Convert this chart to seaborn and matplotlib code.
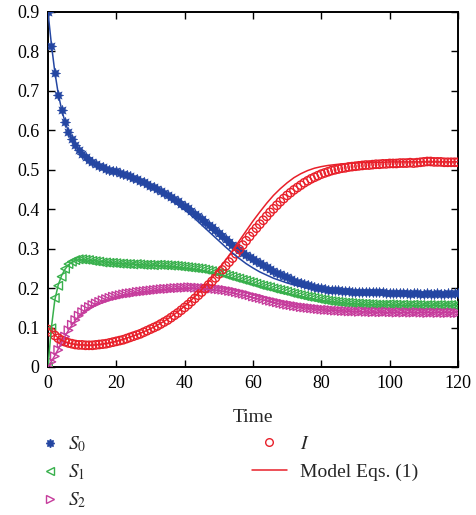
import numpy as np
import pandas as pd
import matplotlib
matplotlib.use("Agg")
import matplotlib.pyplot as plt
import seaborn as sns
from matplotlib.lines import Line2D

# ------------------------------------------------------------
# data
# ------------------------------------------------------------
t_obs = list(range(0, 121))

s0_obs = [
    0.900, 0.815, 0.745, 0.690, 0.652, 0.621, 0.597, 0.578, 0.563, 0.551,
    0.541, 0.533, 0.526, 0.520, 0.514, 0.509, 0.506, 0.503, 0.500, 0.498,
    0.496, 0.493, 0.490, 0.487, 0.483, 0.479, 0.476, 0.472, 0.468, 0.464,
    0.460, 0.456, 0.451, 0.446, 0.441, 0.436, 0.431, 0.426, 0.420, 0.414,
    0.408, 0.402, 0.396, 0.389, 0.382, 0.375, 0.368, 0.361, 0.354, 0.347,
    0.340, 0.333, 0.325, 0.317, 0.310, 0.303, 0.296, 0.290, 0.284, 0.278,
    0.273, 0.268, 0.263, 0.258, 0.253, 0.248, 0.244, 0.239, 0.235, 0.231,
    0.227, 0.223, 0.219, 0.216, 0.213, 0.210, 0.207, 0.205, 0.203, 0.201,
    0.199, 0.198, 0.196, 0.195, 0.194, 0.194, 0.193, 0.192, 0.192, 0.191,
    0.191, 0.190, 0.191, 0.190, 0.189, 0.189, 0.189, 0.190, 0.189, 0.188,
    0.188, 0.188, 0.187, 0.188, 0.187, 0.187, 0.186, 0.187, 0.187, 0.186,
    0.186, 0.187, 0.186, 0.186, 0.187, 0.186, 0.186, 0.187, 0.186, 0.187,
    0.187,
]

s1_obs = [
    0.000, 0.098, 0.175, 0.206, 0.229, 0.249, 0.261, 0.267, 0.271, 0.273,
    0.273, 0.272, 0.271, 0.269, 0.268, 0.267, 0.265, 0.265, 0.264, 0.264,
    0.263, 0.262, 0.262, 0.261, 0.261, 0.260, 0.261, 0.260, 0.259, 0.259,
    0.259, 0.258, 0.259, 0.259, 0.258, 0.258, 0.257, 0.257, 0.256, 0.255,
    0.254, 0.253, 0.252, 0.251, 0.250, 0.249, 0.247, 0.245, 0.243, 0.241,
    0.239, 0.237, 0.234, 0.231, 0.229, 0.226, 0.224, 0.221, 0.219, 0.216,
    0.214, 0.211, 0.208, 0.206, 0.204, 0.202, 0.199, 0.197, 0.195, 0.193,
    0.191, 0.188, 0.186, 0.184, 0.182, 0.180, 0.178, 0.177, 0.175, 0.173,
    0.171, 0.170, 0.168, 0.167, 0.166, 0.165, 0.164, 0.163, 0.163, 0.162,
    0.161, 0.161, 0.160, 0.160, 0.159, 0.159, 0.158, 0.158, 0.158, 0.158,
    0.159, 0.158, 0.158, 0.157, 0.158, 0.157, 0.157, 0.158, 0.157, 0.157,
    0.156, 0.157, 0.157, 0.156, 0.157, 0.157, 0.156, 0.157, 0.157, 0.156,
    0.157,
]

s2_obs = [
    0.000, 0.013, 0.027, 0.043, 0.060, 0.077, 0.093, 0.107, 0.119, 0.130,
    0.139, 0.146, 0.152, 0.157, 0.161, 0.165, 0.169, 0.172, 0.175, 0.178,
    0.180, 0.182, 0.184, 0.186, 0.187, 0.188, 0.190, 0.191, 0.192, 0.193,
    0.194, 0.195, 0.196, 0.197, 0.198, 0.198, 0.199, 0.200, 0.200, 0.201,
    0.201, 0.202, 0.202, 0.201, 0.201, 0.200, 0.200, 0.199, 0.199, 0.198,
    0.197, 0.196, 0.195, 0.193, 0.192, 0.190, 0.188, 0.186, 0.184, 0.182,
    0.179, 0.177, 0.175, 0.173, 0.170, 0.168, 0.166, 0.164, 0.162, 0.160,
    0.158, 0.157, 0.155, 0.154, 0.152, 0.151, 0.150, 0.149, 0.148, 0.147,
    0.146, 0.145, 0.145, 0.144, 0.143, 0.143, 0.142, 0.142, 0.141, 0.141,
    0.141, 0.140, 0.141, 0.140, 0.140, 0.139, 0.140, 0.139, 0.139, 0.140,
    0.139, 0.139, 0.138, 0.139, 0.138, 0.139, 0.138, 0.138, 0.139, 0.138,
    0.138, 0.137, 0.138, 0.138, 0.137, 0.138, 0.137, 0.137, 0.138, 0.137,
    0.137,
]

i_obs = [
    0.095, 0.088, 0.080, 0.073, 0.068, 0.064, 0.061, 0.059, 0.057, 0.056,
    0.056, 0.055, 0.055, 0.055, 0.056, 0.057, 0.058, 0.059, 0.061, 0.063,
    0.065, 0.067, 0.069, 0.072, 0.075, 0.078, 0.081, 0.084, 0.088, 0.092,
    0.096, 0.100, 0.104, 0.109, 0.114, 0.119, 0.125, 0.131, 0.137, 0.144,
    0.151, 0.158, 0.166, 0.174, 0.182, 0.190, 0.199, 0.208, 0.217, 0.226,
    0.236, 0.246, 0.256, 0.266, 0.276, 0.287, 0.298, 0.309, 0.320, 0.331,
    0.342, 0.352, 0.362, 0.372, 0.382, 0.392, 0.401, 0.410, 0.419, 0.427,
    0.435, 0.442, 0.449, 0.455, 0.461, 0.467, 0.472, 0.477, 0.481, 0.485,
    0.489, 0.492, 0.495, 0.498, 0.500, 0.502, 0.504, 0.505, 0.507, 0.508,
    0.509, 0.510, 0.511, 0.512, 0.512, 0.513, 0.514, 0.514, 0.515, 0.515,
    0.516, 0.516, 0.516, 0.517, 0.517, 0.517, 0.518, 0.517, 0.518, 0.519,
    0.520, 0.521, 0.521, 0.520, 0.520, 0.520, 0.519, 0.519, 0.519, 0.519,
    0.519,
]

# model curves (Eqs. (1)), sampled finer at the start
t_model = list(range(0, 11)) + list(range(12, 121, 2))

s0_model = [
    0.900, 0.818, 0.748, 0.693, 0.652, 0.621, 0.597, 0.578, 0.563, 0.551,
    0.541, 0.526, 0.514, 0.505, 0.499, 0.494, 0.488, 0.482, 0.475, 0.466,
    0.457, 0.447, 0.436, 0.424, 0.411, 0.398, 0.384, 0.368, 0.352, 0.336,
    0.320, 0.304, 0.289, 0.275, 0.262, 0.251, 0.241, 0.233, 0.225, 0.219,
    0.213, 0.208, 0.204, 0.200, 0.198, 0.195, 0.194, 0.192, 0.191, 0.190,
    0.190, 0.189, 0.189, 0.189, 0.188, 0.188, 0.188, 0.188, 0.188, 0.188,
    0.188, 0.188, 0.188, 0.188, 0.188, 0.188,
]

s1_model = [
    0.000, 0.100, 0.170, 0.208, 0.232, 0.248, 0.259, 0.266, 0.270, 0.272,
    0.272, 0.271, 0.269, 0.267, 0.265, 0.263, 0.262, 0.261, 0.260, 0.259,
    0.258, 0.257, 0.256, 0.255, 0.253, 0.251, 0.249, 0.246, 0.243, 0.239,
    0.235, 0.231, 0.226, 0.221, 0.216, 0.211, 0.206, 0.201, 0.196, 0.191,
    0.187, 0.183, 0.179, 0.175, 0.172, 0.169, 0.167, 0.165, 0.163, 0.161,
    0.160, 0.159, 0.158, 0.158, 0.157, 0.157, 0.157, 0.156, 0.156, 0.156,
    0.156, 0.156, 0.156, 0.156, 0.156, 0.156,
]

s2_model = [
    0.000, 0.014, 0.029, 0.045, 0.062, 0.078, 0.093, 0.106, 0.118, 0.128,
    0.137, 0.150, 0.160, 0.168, 0.174, 0.179, 0.183, 0.186, 0.189, 0.191,
    0.193, 0.195, 0.197, 0.198, 0.199, 0.200, 0.200, 0.199, 0.198, 0.196,
    0.194, 0.191, 0.188, 0.184, 0.180, 0.176, 0.172, 0.168, 0.164, 0.160,
    0.157, 0.154, 0.151, 0.149, 0.147, 0.145, 0.144, 0.143, 0.142, 0.141,
    0.140, 0.140, 0.139, 0.139, 0.139, 0.138, 0.138, 0.138, 0.138, 0.138,
    0.138, 0.138, 0.138, 0.138, 0.138, 0.138,
]

i_model = [
    0.100, 0.090, 0.081, 0.074, 0.068, 0.064, 0.061, 0.059, 0.057, 0.056,
    0.056, 0.055, 0.056, 0.058, 0.061, 0.065, 0.070, 0.076, 0.082, 0.089,
    0.097, 0.106, 0.116, 0.127, 0.140, 0.154, 0.170, 0.187, 0.206, 0.226,
    0.248, 0.271, 0.295, 0.320, 0.345, 0.370, 0.393, 0.415, 0.435, 0.452,
    0.467, 0.480, 0.490, 0.498, 0.504, 0.508, 0.511, 0.513, 0.515, 0.516,
    0.517, 0.518, 0.518, 0.519, 0.519, 0.520, 0.520, 0.520, 0.520, 0.520,
    0.520, 0.520, 0.520, 0.520, 0.520, 0.520,
]

x_ticks = [0, 20, 40, 60, 80, 100, 120]
y_ticks = [0, 0.1, 0.2, 0.3, 0.4, 0.5, 0.6, 0.7, 0.8, 0.9]
y_tick_labels = ["0", "0.1", "0.2", "0.3", "0.4", "0.5", "0.6", "0.7", "0.8", "0.9"]

BLUE = "#2446a2"
GREEN = "#38b04c"
MAGENTA = "#c63c9c"
RED = "#e8202a"

# asterisk-like marker for S0
STAR = (8, 1, 0)

# ------------------------------------------------------------
# style
# ------------------------------------------------------------
sns.set_theme(style="ticks")
plt.rcParams["font.family"] = ["Liberation Serif", "DejaVu Serif"]
plt.rcParams["mathtext.fontset"] = "stix"
plt.rcParams["font.size"] = 13

fig = plt.figure(figsize=(4.76, 5.15), dpi=100)
ax = fig.add_axes([0.1008, 0.2874, 0.8613, 0.6893])

# ------------------------------------------------------------
# observed points
# ------------------------------------------------------------
sns.scatterplot(x=t_obs, y=s0_obs, ax=ax, marker=STAR, s=55,
                color=BLUE, edgecolor=BLUE, linewidth=0.4, zorder=3)
sns.scatterplot(x=t_obs, y=s1_obs, ax=ax, marker="<", s=38,
                color=GREEN, facecolor="none", edgecolor=GREEN,
                linewidth=1.0, zorder=3)
sns.scatterplot(x=t_obs, y=s2_obs, ax=ax, marker=">", s=38,
                color=MAGENTA, facecolor="none", edgecolor=MAGENTA,
                linewidth=1.0, zorder=3)
sns.scatterplot(x=t_obs, y=i_obs, ax=ax, marker="o", s=36,
                color=RED, facecolor="none", edgecolor=RED,
                linewidth=1.0, zorder=4)

# ------------------------------------------------------------
# model curves
# ------------------------------------------------------------
for vals, col in [(s0_model, BLUE), (s1_model, GREEN),
                  (s2_model, MAGENTA), (i_model, RED)]:
    sns.lineplot(x=t_model, y=vals, ax=ax, color=col, linewidth=1.1,
                 zorder=5, legend=False)

# ------------------------------------------------------------
# axes
# ------------------------------------------------------------
ax.set_xlim(0, 120)
ax.set_ylim(0, 0.9)
ax.set_xticks(x_ticks)
ax.set_xticklabels([str(v) for v in x_ticks])
ax.set_yticks(y_ticks)
ax.set_yticklabels(y_tick_labels)
ax.tick_params(direction="in", length=5, width=1.0, labelsize=13,
               top=True, right=True, colors="black")
ax.tick_params(axis="x", pad=6)
ax.tick_params(axis="y", pad=6)
ax.set_xlabel("Time", fontsize=14, labelpad=12)
ax.set_ylabel("")
for sp in ax.spines.values():
    sp.set_visible(True)
    sp.set_linewidth(1.4)
    sp.set_color("black")

# ------------------------------------------------------------
# legends below the axes
# ------------------------------------------------------------
h_left = [
    Line2D([], [], linestyle="", marker=STAR, markersize=6, color=BLUE),
    Line2D([], [], linestyle="", marker="<", markersize=5.5,
           markerfacecolor="none", markeredgecolor=GREEN),
    Line2D([], [], linestyle="", marker=">", markersize=5.5,
           markerfacecolor="none", markeredgecolor=MAGENTA),
]
leg1 = fig.legend(h_left, ["$S_0$", "$S_1$", "$S_2$"],
                  loc="upper left", bbox_to_anchor=(0.0847, 0.156),
                  frameon=False, borderpad=0, borderaxespad=0,
                  handlelength=1.0, handletextpad=0.43, labelspacing=0.42,
                  fontsize=14)

h_right = [
    Line2D([], [], linestyle="", marker="o", markersize=5.5,
           markerfacecolor="none", markeredgecolor=RED),
    Line2D([], [], color=RED, linewidth=1.1),
]
leg2 = fig.legend(h_right, ["$I$", "Model Eqs. (1)"],
                  loc="upper left", bbox_to_anchor=(0.5294, 0.154),
                  frameon=False, borderpad=0, borderaxespad=0,
                  handlelength=1.8, handletextpad=0.67, labelspacing=0.5,
                  fontsize=14)

fig.savefig("out.png", dpi=100)
